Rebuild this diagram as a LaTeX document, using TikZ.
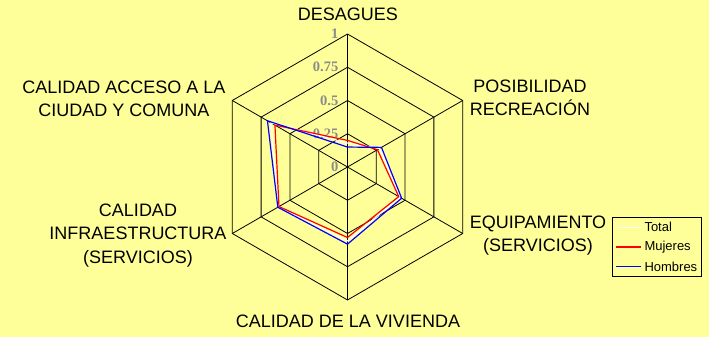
\documentclass[tikz,border=0pt]{standalone}
\usepackage{fontspec}
\setmainfont{Liberation Sans}
\newfontfamily\marcafont{Liberation Serif}
\usepackage{xcolor}
\definecolor{fondo}{RGB}{255,255,153}
\definecolor{gris}{RGB}{140,140,140}
\definecolor{rojo}{RGB}{255,0,0}
\definecolor{azul}{RGB}{0,0,255}

\begin{document}
\begin{tikzpicture}[x=1pt,y=1pt,
  eje/.style={font=\fontsize{18}{23.5}\selectfont, align=center, anchor=base, inner sep=0pt},
  marca/.style={font=\marcafont\bfseries\fontsize{14.5}{15}\selectfont, text=gris, anchor=east, inner sep=0pt},
  rejilla/.style={black, line width=0.8pt},
  serie/.style={line width=1.2pt, line join=miter},
  leyenda/.style={font=\fontsize{13}{14}\selectfont, anchor=west, inner sep=0pt}]
\fill[fondo] (-347.5,-170) rectangle (361.5,167);
\useasboundingbox (-347.5,-170) rectangle (361.5,167);

\begin{scope}[x=133pt,y=133pt]
\foreach \r in {0.25,0.5,0.75,1}
  \draw[rejilla] (90:\r) -- (30:\r) -- (-30:\r) -- (-90:\r) -- (210:\r) -- (150:\r) -- cycle;
\foreach \a in {90,30,-30,-90,210,150}
  \draw[rejilla] (0,0) -- (\a:1);

\node[marca] (m0) at (-0.068,0) {0};
\node[marca] (m25) at (-0.068,0.25) {0.25};
\node[marca] (m50) at (-0.068,0.5) {0.5};
\node[marca] (m75) at (-0.068,0.75) {0.75};
\node[marca] (m100) at (-0.068,1) {1};

% Total, Mujeres, Hombres
\draw[serie, white] (90:0.18) -- (30:0.28) -- (-30:0.455) -- (-90:0.555) -- (210:0.6) -- (150:0.665) -- cycle;
\draw[serie, rojo] (90:0.2) -- (30:0.26) -- (-30:0.445) -- (-90:0.53) -- (210:0.595) -- (150:0.63) -- cycle;
\draw[serie, azul] (90:0.15) -- (30:0.295) -- (-30:0.47) -- (-90:0.58) -- (210:0.605) -- (150:0.695) -- cycle;
\end{scope}

\node[eje] (desagues) at (0.3,146) {DESAGUES};
\node[eje] (recreacion) at (182.5,51) {POSIBILIDAD\\RECREACIÓN};
\node[eje] (equipamiento) at (190.5,-84.7) {EQUIPAMIENTO\\(SERVICIOS)};
\node[eje] (vivienda) at (0.5,-160) {CALIDAD DE LA VIVIENDA};
\node[eje] (infraestructura) at (-209.5,-96.3) {CALIDAD\\INFRAESTRUCTURA\\(SERVICIOS)};
\node[eje] (acceso) at (-223.5,50.3) {CALIDAD ACCESO A LA\\CIUDAD Y COMUNA};

% leyenda
\draw[black, line width=0.6pt] (264.5,-50) rectangle (353.5,-109);
\coordinate (total1) at (268.5,-60.3);
\coordinate (total2) at (293.5,-60.3);
\coordinate (mujer1) at (268.5,-80);
\coordinate (mujer2) at (293.5,-80);
\coordinate (hombre1) at (268.5,-99.7);
\coordinate (hombre2) at (293.5,-99.7);
\draw[serie, white] (total1) -- (total2);
\draw[serie, rojo, line width=1.5pt] (mujer1) -- (mujer2);
\draw[serie, azul] (hombre1) -- (hombre2);
\node[leyenda] (ltotal) at (296.8,-60.3) {Total};
\node[leyenda] (lmujeres) at (296.8,-80) {Mujeres};
\node[leyenda] (lhombres) at (296.8,-99.7) {Hombres};
\end{tikzpicture}
\end{document}
